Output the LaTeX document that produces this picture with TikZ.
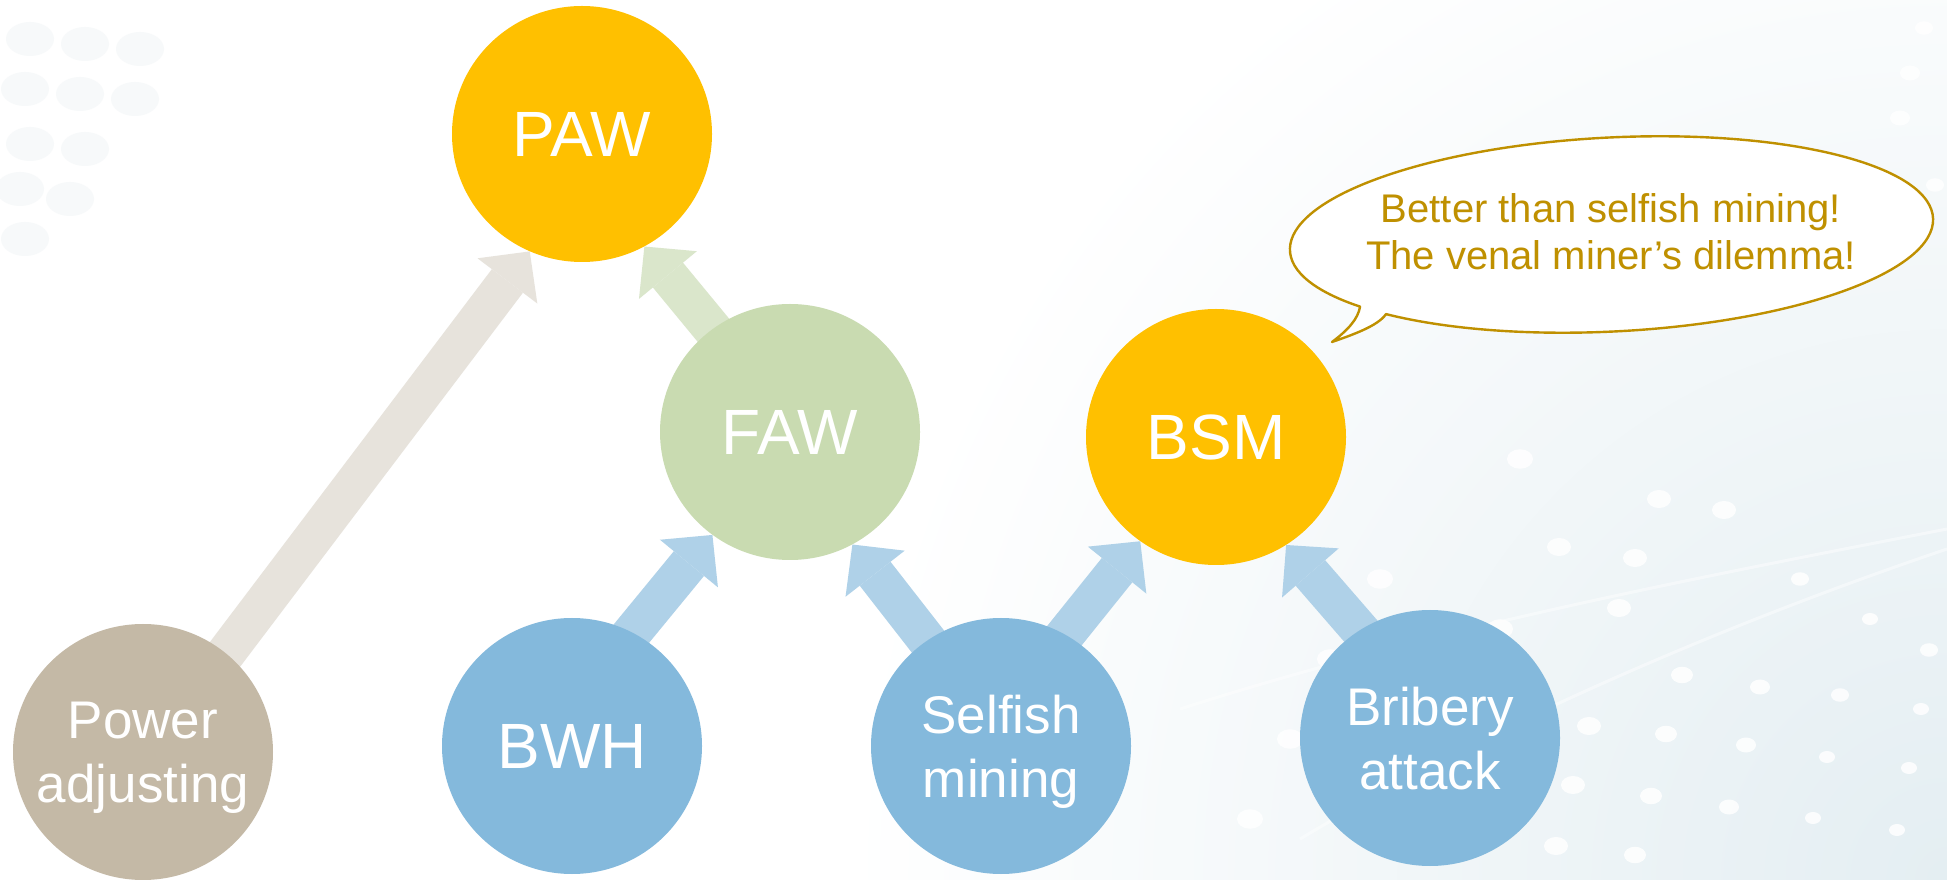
\documentclass[tikz,border=0pt]{standalone}
\usepackage{fontspec}
\setmainfont{Liberation Sans}
\usetikzlibrary{arrows.meta,shapes.geometric}

\definecolor{gold}{HTML}{FFC000}
\definecolor{fawgreen}{HTML}{C9DBB1}
\definecolor{powbeige}{HTML}{C4B9A6}
\definecolor{leafblue}{HTML}{84B9DC}
\definecolor{powline}{HTML}{E7E3DC}
\definecolor{greenline}{HTML}{DAE6CB}
\definecolor{blueline}{HTML}{AFD1E8}
\definecolor{calltext}{HTML}{BF9000}
\definecolor{bgtint}{HTML}{E4EEF2}
\definecolor{bgfaint}{HTML}{F7F9FA}

\pgfdeclarelayer{decor}
\pgfdeclarelayer{links}
\pgfsetlayers{decor,links,main}

\tikzset{
  bubble/.style={ellipse, minimum width=260pt, minimum height=256pt,
    inner sep=0pt, text=white, font=\fontsize{64}{70}\selectfont},
  twoline/.style={text=white, font=\fontsize{53}{64}\selectfont,
    align=center, text depth=0pt, inner sep=0pt},
  link/.style={line width=39pt, shorten <=-60pt,
    -{Triangle[length=37pt,width=75pt,line width=0pt]}},
  callout/.style={draw=calltext, line width=2.4pt, fill=white, line join=round},
  dot/.style={fill=white, draw=none}
}

\begin{document}
\begin{tikzpicture}[x=1pt,y=1pt]
\useasboundingbox (0,0) rectangle (1947,879);

% faint backdrop: soft tint towards the lower right with white dots and streaks
\begin{pgfonlayer}{decor}
  \fill[white] (0,0) rectangle (1947,879);
  \begin{scope}
    \clip (0,0) rectangle (1947,879);
    \shade[inner color=bgtint, outer color=white] (1947,0) circle[radius=1100];
  \end{scope}
  \foreach \x/\y/\r in {1924/851/9,1910/806/10,1900/761/10,1935/694/9,
      1929/229/9,1921/170/8,1909/111/8,1897/49/8,1840/184/9,1827/122/8,
      1813/61/8,1746/134/10,1729/72/10,1760/192/10,1666/145/11,1651/83/11,
      1635/24/11,1682/204/11,1589/153/12,1573/94/12,1556/33/12,1619/271/12,
      1635/321/12,1724/369/12,1659/380/12,1559/332/12,1500/250/13,
      1470/180/13,1440/100/13,1410/30/13,1520/420/13,1800/300/9,1870/260/8,
      1380/300/13,1330/220/13,1290/140/13,1250/60/13}
    \fill[dot, opacity=0.85] (\x,\y) ellipse[x radius=\r, y radius=0.75*\r];
  \draw[white, line width=3pt, opacity=0.45]
    (1300,40) .. controls (1500,160) and (1740,260) .. (1947,330);
  \draw[white, line width=3pt, opacity=0.45]
    (1180,170) .. controls (1430,250) and (1690,300) .. (1947,350);
  \foreach \x/\y in {30/840,85/835,140/830,25/790,80/785,135/780,
      30/735,85/730,20/690,70/680,25/640}
    \fill[bgfaint] (\x,\y) ellipse[x radius=24, y radius=17];
\end{pgfonlayer}

% attack and strategy nodes
\node[bubble, fill=gold] (paw) at (582,745) {PAW};
\node[bubble, fill=fawgreen] (faw) at (790,447) {FAW};
\node[bubble, fill=gold] (bsm) at (1216,442) {BSM};
\node[bubble, fill=powbeige, label={[twoline]center:Power\\adjusting}]
  (pow) at (143,127) {};
\node[bubble, fill=leafblue] (bwh) at (572,133) {BWH};
\node[bubble, fill=leafblue, label={[twoline]center:Selfish\\mining}]
  (sel) at (1001,133) {};
\node[bubble, fill=leafblue, label={[twoline]center:Bribery\\attack}]
  (bri) at (1430,141) {};

% block arrows, tucked under the circles
\begin{pgfonlayer}{links}
  \draw[link, draw=powline] (pow.50) -- (paw.-114);
  \draw[link, draw=greenline] (faw.127) -- (paw.-61);
  \draw[link, draw=blueline] (bwh.62) -- (faw.-127);
  \draw[link, draw=blueline] (sel.125) -- (faw.-61);
  \draw[link, draw=blueline] (sel.60) -- (bsm.-126.5);
  \draw[link, draw=blueline] (bri.123) -- (bsm.-57);
\end{pgfonlayer}

% speech bubble with its tail
\coordinate (tip) at (1332,537);
\coordinate (c1) at (1358,560);
\coordinate (c2) at (1348,549);
\coordinate (c3) at (1352,544);
\coordinate (c4) at (1378,553);
\draw[callout, shift={(1611.5,644.5)}, rotate=2.9]
  (-135.4:322 and 97)
  arc[start angle=-135.4, end angle=217.7, x radius=322, y radius=97]
  .. controls (c1) and (c2) .. (tip)
  .. controls (c3) and (c4) .. cycle;
\node[text=calltext, align=center, font=\fontsize{40}{47.5}\selectfont]
  (say) at (1611,647.5) {Better than selfish mining!\\The venal miner’s dilemma!};
\end{tikzpicture}
\end{document}
